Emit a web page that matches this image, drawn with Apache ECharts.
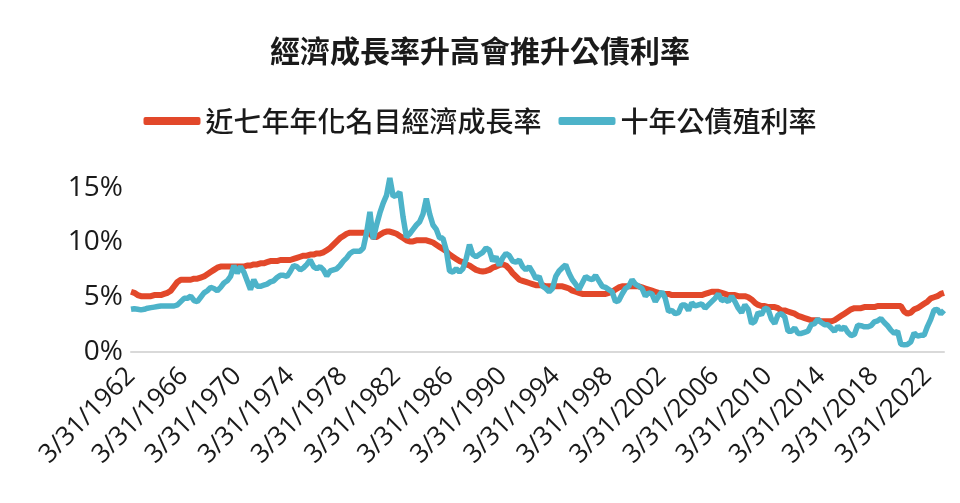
<!DOCTYPE html>
<html><head><meta charset="utf-8">
<script src="https://cdn.jsdelivr.net/npm/echarts@6/dist/echarts.min.js"></script>
<style>html,body{margin:0;padding:0;background:#fff}#c{width:960px;height:503px}</style>
</head><body><div id="c"></div>
<script>
const titleText = '經濟成長率升高會推升公債利率';
const seriesNames = ['近七年年化名目經濟成長率', '十年公債殖利率'];
const startYear = 1962, endYear = 2023, lastQuarterOfEndYear = 2;
const quarterEnds = ['3/31', '6/30', '9/30', '12/31'];
const yTicks = [0, 5, 10, 15];

// 近七年年化名目經濟成長率 (%), quarterly from 3/31/1962
const growth7y = [
 5.5,5.4,5.2,5.1, 5.1,5.1,5.1,5.2, 5.2,5.2,5.3,5.4, 5.6,6.0,6.4,6.6,
 6.6,6.6,6.6,6.7, 6.7,6.8,6.9,7.1, 7.3,7.5,7.7,7.8, 7.8,7.8,7.8,7.8,
 7.8,7.8,7.8,7.9, 7.9,8.0,8.0,8.1, 8.1,8.2,8.3,8.3, 8.3,8.4,8.4,8.4,
 8.4,8.5,8.6,8.7, 8.8,8.8,8.9,8.9, 9.0,9.0,9.1,9.3, 9.5,9.8,10.1,10.4,
 10.6,10.8,10.9,10.9, 10.9,10.9,10.9,10.9, 10.8,10.5,10.5,10.7, 10.9,11.0,11.0,10.9,
 10.8,10.6,10.4,10.2, 10.1,10.1,10.2,10.2, 10.2,10.2,10.1,10.0, 9.8,9.6,9.4,9.2,
 8.9,8.7,8.5,8.3, 8.2,8.0,7.9,7.7, 7.5,7.4,7.35,7.4, 7.5,7.7,7.8,7.95,
 8.0,7.9,7.6,7.2, 6.9,6.6,6.5,6.4, 6.3,6.2,6.1,6.1, 6.1,6.0,6.0,6.0,
 6.0,6.0,6.0,5.9, 5.8,5.6,5.5,5.4, 5.3,5.3,5.3,5.3, 5.3,5.3,5.3,5.3,
 5.4,5.5,5.7,5.9, 6.0,6.0,6.0,6.0, 6.0,6.0,5.9,5.8, 5.7,5.6,5.5,5.4,
 5.3,5.3,5.3,5.2, 5.2,5.2,5.2,5.2, 5.2,5.2,5.2,5.2, 5.2,5.3,5.4,5.5,
 5.5,5.5,5.4,5.3, 5.2,5.2,5.2,5.1, 5.1,5.1,5.0,4.8, 4.5,4.3,4.2,4.2,
 4.1,4.1,4.1,4.0, 3.8,3.8,3.7,3.6, 3.5,3.3,3.2,3.1, 3.0,2.9,2.9,2.9,
 2.8,2.8,2.8,2.8, 2.9,3.1,3.3,3.5, 3.7,3.9,4.0,4.0, 4.0,4.1,4.1,4.1,
 4.1,4.2,4.2,4.2, 4.2,4.2,4.2,4.2, 4.2,3.7,3.5,3.6, 3.9,4.0,4.2,4.4,
 4.6,4.9,5.0,5.1, 5.3,5.4
];

// 十年公債殖利率 (%), quarterly from 3/31/1962
const yield10y = [
 3.9,3.95,3.9,3.85, 3.9,4.0,4.05,4.1, 4.15,4.2,4.2,4.2, 4.2,4.2,4.3,4.6,
 4.9,4.9,5.1,4.7, 4.6,5.0,5.4,5.6, 5.9,5.8,5.6,5.9, 6.3,6.5,6.9,7.9,
 7.2,7.8,7.3,6.5, 5.7,6.6,6.0,6.0, 6.1,6.2,6.4,6.5, 6.8,7.0,7.0,6.9,
 7.35,7.9,7.8,7.5, 7.7,8.0,8.4,7.8, 7.6,7.8,7.5,6.95, 7.4,7.5,7.6,7.9,
 8.3,8.6,9.0,9.2, 9.2,9.2,9.5,10.9, 12.8,10.3,11.6,12.7, 13.6,14.3,15.9,14.2,
 14.3,14.6,12.3,10.5, 10.8,11.2,11.6,11.9, 12.6,14.0,12.6,11.6, 11.2,10.4,10.4,9.3,
 7.4,7.3,7.6,7.3, 7.6,8.5,9.8,8.9, 8.7,8.9,9.1,9.5, 9.3,8.3,8.7,7.9,
 8.6,9.0,8.8,8.3, 8.2,8.4,7.8,7.5, 7.8,7.3,6.7,6.9, 6.0,5.8,5.5,5.8,
 6.9,7.4,7.7,7.96, 7.2,6.6,6.2,5.7, 6.3,6.9,6.7,6.6, 7.0,6.5,6.0,5.9,
 5.7,5.5,4.6,4.7, 5.3,5.8,6.0,6.6, 6.2,6.0,5.8,5.1, 5.4,5.3,4.6,5.1,
 5.5,4.9,3.7,3.8, 3.5,3.6,4.3,4.3, 3.8,4.5,4.2,4.3, 4.4,4.0,4.3,4.6,
 4.9,5.3,4.7,4.8, 4.6,5.1,4.6,4.0, 3.6,4.3,3.9,2.6, 2.8,3.6,3.4,4.0,
 3.9,3.0,2.6,3.4, 3.5,3.2,1.9,1.9, 2.2,1.7,1.7,1.8, 1.9,2.5,2.6,3.0,
 2.7,2.5,2.5,2.2, 1.9,2.35,2.05,2.3, 1.8,1.5,1.6,2.45, 2.4,2.3,2.3,2.4,
 2.75,2.85,3.05,2.7, 2.4,2.0,1.7,1.9, 0.7,0.66,0.69,0.93, 1.74,1.45,1.52,1.52,
 2.32,2.98,3.83,3.88, 3.48,3.81
];

const categories = [];
for (let y = startYear; y <= endYear; y++) {
  const nq = (y === endYear) ? lastQuarterOfEndYear : 4;
  for (let q = 0; q < nq; q++) categories.push(quarterEnds[q] + '/' + y);
}

const RED = '#E2482A', TEAL = '#4DB3C9', TXT = '#1a1a1a';
const chart = echarts.init(document.getElementById('c'));
chart.setOption({
  animation: false,
  backgroundColor: '#fff',
  title: {
    text: titleText, left: 'center', top: 31,
    textStyle: { fontFamily: 'Noto Sans CJK TC', fontSize: 30, fontWeight: 'bold', color: TXT }
  },
  legend: {
    top: 102, left: 'center', itemWidth: 57, itemHeight: 8, itemGap: 17,
    icon: 'roundRect',
    textStyle: { fontFamily: 'Noto Sans CJK TC', fontSize: 28, color: TXT, fontWeight: 500 },
    data: seriesNames
  },
  grid: { left: 131, right: 16, top: 133, bottom: 151, containLabel: false },
  xAxis: {
    type: 'category', data: categories, boundaryGap: false,
    axisLine: { lineStyle: { color: '#d9d9d9', width: 2 } },
    axisTick: { show: false },
    axisLabel: {
      interval: 15, rotate: 45, margin: 20, color: TXT,
      fontFamily: 'Open Sans', fontSize: 26
    },
    splitLine: { show: false }
  },
  yAxis: {
    type: 'value', min: 0, max: 20, interval: 5,
    axisLine: { show: false }, axisTick: { show: false },
    splitLine: { show: false },
    axisLabel: {
      margin: 8, color: TXT, fontFamily: 'Open Sans', fontSize: 28,
      formatter: v => yTicks.indexOf(v) >= 0 ? v + '%' : ''
    }
  },
  series: [
    { name: seriesNames[0], type: 'line', data: growth7y, showSymbol: false, symbol: 'none',
      lineStyle: { color: RED, width: 6 }, itemStyle: { color: RED } },
    { name: seriesNames[1], type: 'line', data: yield10y, showSymbol: false, symbol: 'none',
      lineStyle: { color: TEAL, width: 5.5 }, itemStyle: { color: TEAL } }
  ]
});
</script></body></html>
